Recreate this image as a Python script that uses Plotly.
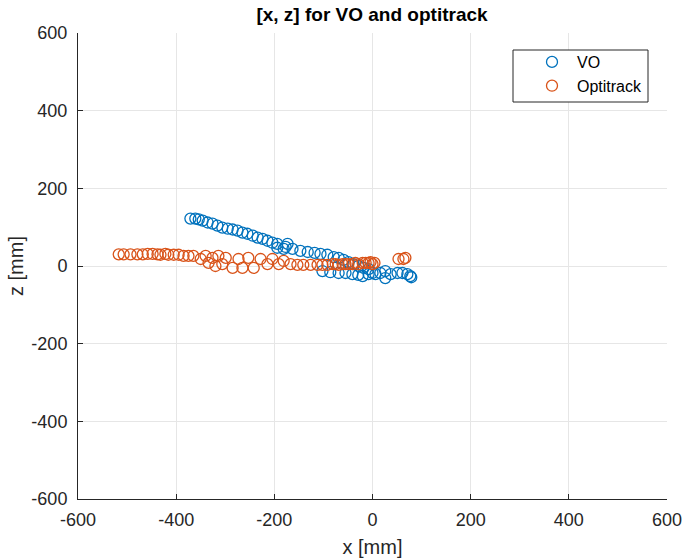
import plotly.graph_objects as go

# VO trajectory [x, z] in mm
vo_x = [-371, -361, -354, -346, -336, -326, -316, -306, -295, -285, -275, -265, -255, -244,
        -234, -224, -214, -204, -194, -194, -181, -173, -177, -163, -147, -132, -118, -106,
        -92, -79, -69, -59, -49, -39, -29, -18, -8, -102, -86, -69, -55, -41, -29, -20, -8, 0,
        6, 16, 26, 37, 51, 61, 71, 77, 79, 26]
vo_z = [122, 122, 120, 117, 112, 109, 104, 99, 96, 94, 91, 86, 83, 78,
        73, 70, 65, 60, 57, 47, 44, 57, 49, 44, 39, 36, 34, 31,
        29, 23, 21, 16, 10, 5, 0, -5, -8, -13, -16, -18, -18, -21, -23, -26, -21, -18,
        -21, -18, -13, -21, -18, -18, -21, -26, -29, -31]

# Optitrack trajectory [x, z] in mm
op_x = [-517, -507, -493, -479, -468, -458, -448, -438, -432, -422, -416, -405, -395, -385,
        -375, -365, -350, -340, -334, -326, -320, -314, -306, -299, -285, -273, -265, -253,
        -242, -228, -214, -204, -191, -181, -167, -153, -141, -126, -112, -102, -92, -81,
        -75, -69, -61, -55, -49, -41, -35, -29, -20, -14, -8, -4, 0, 4, 53, 63, 67]
op_z = [30, 30, 30, 30, 30, 31, 31, 30, 29, 31, 29, 29, 29, 26,
        26, 26, 18, 26, 8, 21, 0, 26, 5, 21, -5, 18, -5, 21,
        -5, 18, 5, 18, 5, 13, 5, 3, 3, 3, 3, 3, 3, 5,
        5, 3, 5, 5, 5, 5, 8, 5, 8, 8, 8, 10, 5, 8, 18, 18, 21]

x_ticks = [-600, -400, -200, 0, 200, 400, 600]
z_ticks = [-600, -400, -200, 0, 200, 400, 600]

FONT = "Liberation Sans, Arial, sans-serif"
W, H = 685, 559
L, R, T, B = 78, 18, 33, 60
PW, PH = W - L - R, H - T - B


def px_x(p):
    return (p - L) / PW


def px_y(p):
    return (H - B - p) / PH


fig = go.Figure()
fig.add_trace(go.Scatter(x=vo_x, y=vo_z, mode="markers", name="VO",
                         marker=dict(symbol="circle-open", size=11, color="#0072BD",
                                     line=dict(width=1.3, color="#0072BD"))))
fig.add_trace(go.Scatter(x=op_x, y=op_z, mode="markers", name="Optitrack",
                         marker=dict(symbol="circle-open", size=11, color="#D95319",
                                     line=dict(width=1.3, color="#D95319"))))

axis_common = dict(showgrid=True, gridcolor="#E6E6E6", gridwidth=1, zeroline=False,
                   showline=True, linecolor="#262626", linewidth=1, automargin=False,
                   ticks="inside", ticklen=5, tickcolor="#262626",
                   tickfont=dict(family=FONT, size=18, color="#262626"))

fig.update_xaxes(range=[-600, 600], tickvals=x_ticks, ticktext=[str(v) for v in x_ticks],
                 ticklabelstandoff=4,
                 title=dict(text="x [mm]", font=dict(family=FONT, size=20, color="#262626"),
                            standoff=11), **axis_common)
fig.update_yaxes(range=[-600, 600], tickvals=z_ticks, ticktext=[str(v) for v in z_ticks],
                 ticklabelstandoff=6,
                 title=dict(text="z [mm]", font=dict(family=FONT, size=20, color="#262626"),
                            standoff=2), **axis_common)

# legend frame drawn as a shape to match the reference box
fig.add_shape(type="rect", xref="paper", yref="paper",
              x0=px_x(513), x1=px_x(648), y0=px_y(102), y1=px_y(50),
              line=dict(color="#262626", width=1), fillcolor="white", layer="above")

fig.update_layout(
    width=W, height=H,
    margin=dict(l=L, r=R, t=T, b=B),
    plot_bgcolor="white", paper_bgcolor="white",
    title=dict(text="<b>[x, z] for VO and optitrack</b>", x=372 / W,
               xanchor="center", y=1 - 14 / H, yanchor="middle",
               font=dict(family=FONT, size=19, color="black")),
    legend=dict(x=px_x(527), y=px_y(45), xanchor="left", yanchor="top",
                borderwidth=0, bgcolor="rgba(0,0,0,0)",
                font=dict(family=FONT, size=16, color="black"),
                itemwidth=40),
    showlegend=True,
)

fig.write_html("out.html", config={"displayModeBar": False},
               post_script="document.body.style.margin='0';document.documentElement.style.overflow='hidden';")
